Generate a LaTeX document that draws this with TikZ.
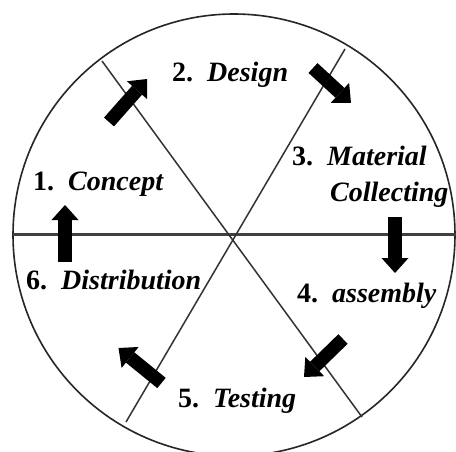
\documentclass[tikz,border=0pt]{standalone}
\usepackage{fontspec}
\setmainfont{Liberation Serif}
\usetikzlibrary{arrows.meta}
\begin{document}
\begin{tikzpicture}[x=1pt,y=-1pt,
  ring/.style={line width=1.6pt, black!85},
  spoke/.style={line width=1.5pt, black!80},
  hline/.style={line width=2.2pt, black!75},
  barrow/.style={line width=13.3pt, -{Triangle[line width=0pt,length=15pt,width=27pt]}},
  lbl/.style={anchor=base west, inner sep=0pt, font=\fontsize{28}{30}\selectfont\bfseries}]
\useasboundingbox (0,0) rectangle (456,452);
\fill[white] (0,0) rectangle (456,452);
% ring and spokes
\coordinate (c) at (234,235);
\draw[ring] (c) circle[radius=221pt];
\coordinate (hL) at (13,234.5);
\coordinate (hR) at (458,234.5);
\coordinate (aNW) at (102,61);
\coordinate (aSE) at (362,417);
\coordinate (bNE) at (345,49);
\coordinate (bSW) at (126,422);
\draw[hline] (hL) -- (hR);
\draw[spoke] (aNW) -- (aSE);
\draw[spoke] (bNE) -- (bSW);
% labels
\node[lbl] (n1) at (33,190.5) {1.\hspace{14pt}\textit{Concept}};
\node[lbl] (n2) at (172,82) {2.\hspace{14pt}\textit{Design}};
\node[lbl] (n3) at (292,165) {3.\hspace{14pt}\textit{Material}};
\node[lbl] (n3b) at (330,201.5) {\textit{Collecting}};
\node[lbl] (n4) at (297,302.5) {4.\hspace{14pt}\textit{assembly}};
\node[lbl] (n5) at (178,407) {5.\hspace{14pt}\textit{Testing}};
\node[lbl] (n6) at (26,289) {6.\hspace{14pt}\textit{Distribution}};
% block arrows
\coordinate (t1) at (109,122);   \coordinate (h1) at (147,79);
\coordinate (t2) at (313,68);    \coordinate (h2) at (351,103);
\coordinate (t3) at (395,217);   \coordinate (h3) at (395,273);
\coordinate (t4) at (343,339);   \coordinate (h4) at (304,377);
\coordinate (t5) at (161.5,383); \coordinate (h5) at (118.5,348);
\coordinate (t6) at (65,261.5);  \coordinate (h6) at (65,205);
\foreach \i in {1,...,6} { \draw[barrow] (t\i) -- (h\i); }
\end{tikzpicture}
\end{document}
